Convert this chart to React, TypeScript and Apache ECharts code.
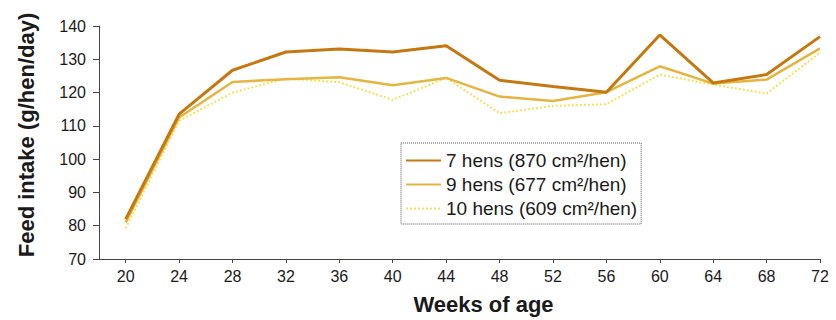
import React, { useEffect, useRef } from "react";
import * as echarts from "echarts";

const weeks = [20, 24, 28, 32, 36, 40, 44, 48, 52, 56, 60, 64, 68, 72];
const hens7 = [82, 113.5, 126.7, 132.2, 133.1, 132.2, 134.1, 123.7, 121.8, 120.1, 137.3, 122.9, 125.4, 136.8];
const hens9 = [81, 112.5, 123.2, 124, 124.6, 122.2, 124.4, 118.8, 117.5, 120.1, 127.9, 122.7, 123.9, 133.3];
const hens10 = [79.2, 111.5, 120, 124.2, 123.1, 117.8, 124.4, 113.8, 116, 116.5, 125.4, 122.4, 119.7, 132];
const seriesNames = ["7 hens (870 cm²/hen)", "9 hens (677 cm²/hen)", "10 hens (609 cm²/hen)"];
const yTicks = [70, 80, 90, 100, 110, 120, 130, 140];

const pair = (vals: number[]) => weeks.map((w, i) => [w, vals[i]]);

export default function App() {
  const ref = useRef<HTMLDivElement>(null);
  useEffect(() => {
    if (!ref.current) return;
    const chart = echarts.init(ref.current, null, { renderer: "svg" });
    const axisColor = "#444";
    const font = "Liberation Sans";
    chart.setOption({
      animation: false,
      backgroundColor: "#fff",
      grid: { left: 99, right: 16, top: 26, bottom: 59, containLabel: false },
      legend: {
        orient: "vertical",
        left: 401,
        top: 143,
        padding: [8, 4, 6, 4],
        itemGap: 5,
        itemWidth: 35,
        itemHeight: 18,
        borderColor: "#555",
        borderWidth: 1,
        borderType: "dotted",
        backgroundColor: "#fff",
        itemStyle: { opacity: 0 },
        textStyle: { fontFamily: font, fontSize: 19, lineHeight: 18, color: "#1a1a1a" },
        data: seriesNames,
      },
      xAxis: {
        type: "value",
        min: 18,
        max: 72,
        name: "Weeks of age",
        nameLocation: "middle",
        nameGap: 34,
        nameTextStyle: { fontFamily: font, fontSize: 22, fontWeight: "bold", color: "#1a1a1a", padding: [0, 0, 0, 48] },
        splitLine: { show: false },
        axisLine: { show: true, lineStyle: { color: axisColor, width: 1 } },
        axisTick: { show: true, length: 4, customValues: weeks, lineStyle: { color: axisColor } },
        axisLabel: { customValues: weeks, fontFamily: font, fontSize: 16, color: "#1a1a1a", margin: 9 },
      },
      yAxis: {
        type: "value",
        min: 70,
        max: 140,
        interval: 10,
        name: "Feed intake (g/hen/day)",
        nameLocation: "middle",
        nameGap: 62,
        nameTextStyle: { fontFamily: font, fontSize: 22, fontWeight: "bold", color: "#1a1a1a", padding: [0, 0, 0, 15] },
        splitLine: { show: false },
        axisLine: { show: true, lineStyle: { color: axisColor, width: 1 } },
        axisTick: { show: true, length: 6, lineStyle: { color: axisColor } },
        axisLabel: {
          fontFamily: font,
          fontSize: 16,
          color: "#1a1a1a",
          margin: 13,
          formatter: (v: number) => (yTicks.includes(v) ? String(v) : ""),
        },
      },
      series: [
        {
          name: seriesNames[0],
          type: "line",
          data: pair(hens7),
          symbol: "none",
          color: "#c5780f",
          lineStyle: { color: "#c5780f", width: 3 },
          z: 3,
        },
        {
          name: seriesNames[1],
          type: "line",
          data: pair(hens9),
          symbol: "none",
          color: "#e6b440",
          lineStyle: { color: "#e6b440", width: 2.5 },
          z: 2,
        },
        {
          name: seriesNames[2],
          type: "line",
          data: pair(hens10),
          symbol: "none",
          color: "#f4e25a",
          lineStyle: { color: "#f4e25a", width: 2, type: [2, 2] },
          z: 1,
        },
      ],
    });
    return () => chart.dispose();
  }, []);
  return (
    <div
      ref={ref}
      style={{ position: "absolute", left: 0, top: 0, width: 836, height: 320 }}
    />
  );
}
